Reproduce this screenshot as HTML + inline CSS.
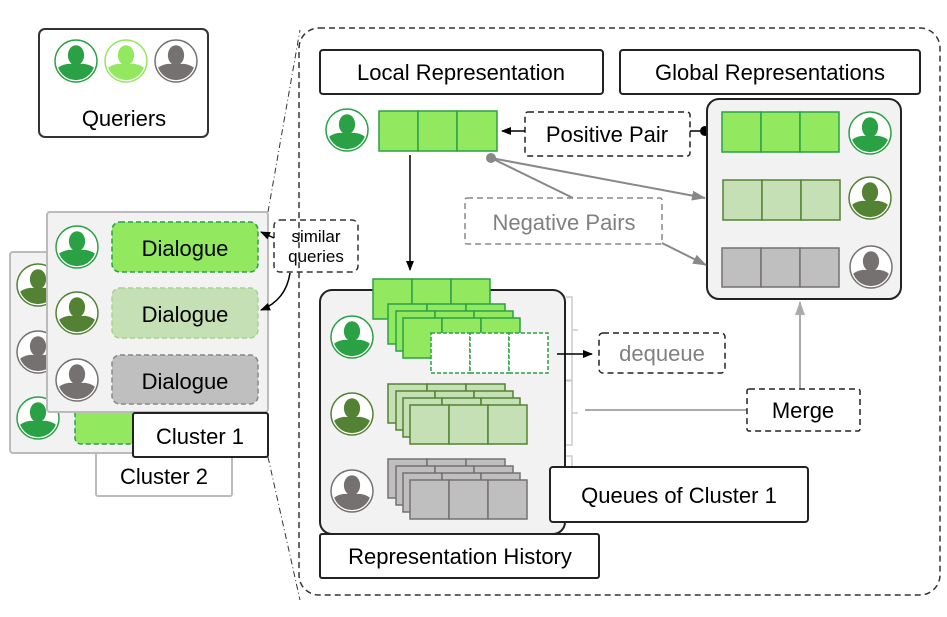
<!DOCTYPE html>
<html><head><meta charset="utf-8"><style>
html,body{margin:0;padding:0;background:#fff;}
svg{display:block;font-family:"Liberation Sans",sans-serif;}
text{font-family:"Liberation Sans",sans-serif;}
</style></head><body>
<svg width="947" height="617" viewBox="0 0 947 617" xmlns="http://www.w3.org/2000/svg">
<defs>
<symbol id="p" viewBox="-22 -22 44 44">
<clipPath id="cc"><circle r="20"/></clipPath>
<g clip-path="url(#cc)">
<ellipse cx="0" cy="-6" rx="8.5" ry="10.5"/>
<path d="M-22 22 L-22 12 Q-20 5 -9 3 L9 3 Q20 5 22 12 L22 22 Z"/>
</g>
</symbol>
<marker id="ab" markerWidth="10" markerHeight="10" refX="9" refY="5" orient="auto" markerUnits="userSpaceOnUse"><path d="M0 1 L10 5 L0 9 Z" fill="#000"/></marker>
<marker id="ag" markerWidth="14" markerHeight="12" refX="13" refY="6" orient="auto" markerUnits="userSpaceOnUse"><path d="M0 1 L14 6 L0 11 Z" fill="#888"/></marker>
<marker id="al" markerWidth="14" markerHeight="12" refX="13" refY="6" orient="auto" markerUnits="userSpaceOnUse"><path d="M0 1 L14 6 L0 11 Z" fill="#aaa"/></marker>
</defs>

<!-- Queriers -->
<rect x="39" y="29" width="169" height="108" rx="6" fill="#fff" stroke="#333" stroke-width="2"/>
<g><circle cx="76" cy="61" r="21" fill="#fff" stroke="#2ba145" stroke-width="1.5"/><use href="#p" x="55" y="40" width="42" height="42" fill="#2ba145"/></g>
<g><circle cx="126" cy="61" r="21" fill="#fff" stroke="#92e85f" stroke-width="1.5"/><use href="#p" x="105" y="40" width="42" height="42" fill="#92e85f"/></g>
<g><circle cx="176" cy="61" r="21" fill="#fff" stroke="#767171" stroke-width="1.5"/><use href="#p" x="155" y="40" width="42" height="42" fill="#767171"/></g>
<text x="124" y="126" font-size="22" text-anchor="middle">Queriers</text>

<!-- dash-dot zoom lines -->
<line x1="268" y1="212" x2="300" y2="30" stroke="#333" stroke-width="1" stroke-dasharray="6 3 1 3"/>
<line x1="268" y1="457" x2="300" y2="600" stroke="#333" stroke-width="1" stroke-dasharray="6 3 1 3"/>

<!-- Cluster 2 -->
<rect x="96" y="440" width="136" height="56" rx="2" fill="#fff" stroke="#bbb" stroke-width="2"/>
<text x="164" y="484" font-size="22" text-anchor="middle">Cluster 2</text>
<rect x="10" y="252" width="250" height="201" rx="3" fill="#f2f2f2" stroke="#bbb" stroke-width="2"/>
<circle cx="38" cy="285" r="21" fill="#fff" stroke="#548235" stroke-width="1.5"/><use href="#p" x="17" y="264" width="42" height="42" fill="#548235"/>
<circle cx="38" cy="352" r="21" fill="#fff" stroke="#767171" stroke-width="1.5"/><use href="#p" x="17" y="331" width="42" height="42" fill="#767171"/>
<circle cx="38" cy="418" r="21" fill="#fff" stroke="#2ba145" stroke-width="1.5"/><use href="#p" x="17" y="397" width="42" height="42" fill="#2ba145"/>
<rect x="75" y="405" width="70" height="39" rx="6" fill="#92e85f" stroke="#2ba145" stroke-width="1.5" stroke-dasharray="5 3"/>

<!-- Cluster 1 -->
<rect x="47" y="212" width="221" height="200" rx="3" fill="#f2f2f2" stroke="#bbb" stroke-width="2"/>
<circle cx="77" cy="247" r="21" fill="#fff" stroke="#2ba145" stroke-width="1.5"/><use href="#p" x="56" y="226" width="42" height="42" fill="#2ba145"/>
<circle cx="77" cy="313" r="21" fill="#fff" stroke="#548235" stroke-width="1.5"/><use href="#p" x="56" y="292" width="42" height="42" fill="#548235"/>
<circle cx="77" cy="380" r="21" fill="#fff" stroke="#767171" stroke-width="1.5"/><use href="#p" x="56" y="359" width="42" height="42" fill="#767171"/>
<rect x="112" y="222" width="146" height="50" rx="8" fill="#92e85f" stroke="#2ba145" stroke-width="1.5" stroke-dasharray="5 3"/>
<text x="185" y="256" font-size="22" text-anchor="middle">Dialogue</text>
<rect x="112" y="288" width="146" height="50" rx="8" fill="#c5e0b4" stroke="#a9d18e" stroke-width="1.5" stroke-dasharray="5 3"/>
<text x="185" y="322" font-size="22" text-anchor="middle">Dialogue</text>
<rect x="112" y="355" width="146" height="49" rx="8" fill="#bfbfbf" stroke="#888" stroke-width="1.5" stroke-dasharray="5 3"/>
<text x="185" y="389" font-size="22" text-anchor="middle">Dialogue</text>
<rect x="133" y="413" width="135" height="44" rx="2" fill="#fff" stroke="#222" stroke-width="2"/>
<text x="200" y="444" font-size="22" text-anchor="middle">Cluster 1</text>

<!-- similar queries -->
<rect x="274" y="220" width="84" height="52" rx="6" fill="#fff" stroke="#333" stroke-width="1.5" stroke-dasharray="6 4"/>
<text x="316" y="242" font-size="17" text-anchor="middle">similar</text>
<text x="316" y="262" font-size="17" text-anchor="middle">queries</text>
<line x1="274" y1="238" x2="261" y2="232" stroke="#000" stroke-width="1.5" marker-end="url(#ab)"/>
<path d="M290 273 Q286 300 261 310" fill="none" stroke="#000" stroke-width="1.5" marker-end="url(#ab)"/>

<!-- big dashed container -->
<rect x="299" y="28" width="641" height="567" rx="20" fill="none" stroke="#333" stroke-width="1.5" stroke-dasharray="6 4"/>

<rect x="320" y="50" width="283" height="44" rx="3" fill="#fff" stroke="#222" stroke-width="2"/>
<text x="461" y="80" font-size="22" text-anchor="middle">Local Representation</text>
<rect x="620" y="50" width="300" height="44" rx="3" fill="#fff" stroke="#222" stroke-width="2"/>
<text x="770" y="80" font-size="22" text-anchor="middle">Global Representations</text>

<!-- local -->
<circle cx="347" cy="130" r="21" fill="#fff" stroke="#2ba145" stroke-width="1.5"/><use href="#p" x="326" y="109" width="42" height="42" fill="#2ba145"/>
<g fill="#92e85f" stroke="#2ba145" stroke-width="1.5"><rect x="379" y="111" width="39" height="40"/><rect x="418" y="111" width="39" height="40"/><rect x="457" y="111" width="40" height="40"/></g>

<!-- positive pair -->
<rect x="525" y="112" width="165" height="44" rx="3" fill="#fff" stroke="#222" stroke-width="1.5" stroke-dasharray="6 4"/>
<text x="607" y="142" font-size="22" text-anchor="middle">Positive Pair</text>
<line x1="525" y1="131" x2="502" y2="131" stroke="#000" stroke-width="1.5" marker-end="url(#ab)"/>
<line x1="690" y1="131" x2="705" y2="131" stroke="#000" stroke-width="1.5"/>
<circle cx="705" cy="131" r="5" fill="#000"/>

<!-- global panel -->
<rect x="707" y="99" width="194" height="200" rx="12" fill="#f2f2f2" stroke="#222" stroke-width="2"/>
<g fill="#92e85f" stroke="#2ba145" stroke-width="1.5"><rect x="722" y="112" width="39" height="40"/><rect x="761" y="112" width="39" height="40"/><rect x="800" y="112" width="39" height="40"/></g>
<g fill="#c5e0b4" stroke="#548235" stroke-width="1.5"><rect x="723" y="180" width="39" height="40"/><rect x="762" y="180" width="39" height="40"/><rect x="801" y="180" width="39" height="40"/></g>
<g fill="#bfbfbf" stroke="#767171" stroke-width="1.5"><rect x="722" y="248" width="39" height="39"/><rect x="761" y="248" width="39" height="39"/><rect x="800" y="248" width="39" height="39"/></g>
<circle cx="870" cy="133" r="21" fill="#fff" stroke="#2ba145" stroke-width="1.5"/><use href="#p" x="849" y="112" width="42" height="42" fill="#2ba145"/>
<circle cx="870" cy="198" r="21" fill="#fff" stroke="#548235" stroke-width="1.5"/><use href="#p" x="849" y="177" width="42" height="42" fill="#548235"/>
<circle cx="871" cy="267" r="21" fill="#fff" stroke="#767171" stroke-width="1.5"/><use href="#p" x="850" y="246" width="42" height="42" fill="#767171"/>

<!-- negative pairs -->
<rect x="465" y="198" width="197" height="46" rx="2" fill="#fff" stroke="#888" stroke-width="1.5" stroke-dasharray="6 4"/>
<text x="564" y="230" font-size="22" text-anchor="middle" fill="#808080">Negative Pairs</text>
<line x1="491" y1="158" x2="705" y2="198" stroke="#888" stroke-width="2" marker-end="url(#ag)"/>
<line x1="491" y1="158" x2="573" y2="198" stroke="#888" stroke-width="2"/>
<line x1="662" y1="243" x2="706" y2="265" stroke="#888" stroke-width="2" marker-end="url(#ag)"/>
<circle cx="491" cy="158" r="5" fill="#888"/>

<!-- down arrow -->
<line x1="410" y1="155" x2="410" y2="270" stroke="#000" stroke-width="1.5" marker-end="url(#ab)"/>

<!-- brackets -->
<g fill="none" stroke="#ccc" stroke-width="1.5">
<path d="M566 297 L572 297 L572 380 L566 380 M572 330 L578 330"/>
<path d="M566 381 L572 381 L572 445 L566 445 M572 413 L578 413"/>
<path d="M566 456 L572 456 L572 470"/>
</g>

<!-- history panel -->
<rect x="320" y="290" width="245" height="244" rx="12" fill="#f2f2f2" stroke="#222" stroke-width="2"/>
<circle cx="352" cy="337" r="21" fill="#fff" stroke="#2ba145" stroke-width="1.5"/><use href="#p" x="331" y="316" width="42" height="42" fill="#2ba145"/>
<circle cx="352" cy="414" r="21" fill="#fff" stroke="#548235" stroke-width="1.5"/><use href="#p" x="331" y="393" width="42" height="42" fill="#548235"/>
<circle cx="352" cy="491" r="21" fill="#fff" stroke="#767171" stroke-width="1.5"/><use href="#p" x="331" y="470" width="42" height="42" fill="#767171"/>

<!-- green stack -->
<g fill="#92e85f" stroke="#2ba145" stroke-width="1.5">
<g><rect x="373" y="279" width="39" height="40"/><rect x="412" y="279" width="39" height="40"/><rect x="451" y="279" width="39" height="40"/></g>
<g><rect x="388" y="304" width="39" height="40"/><rect x="427" y="304" width="39" height="40"/><rect x="466" y="304" width="39" height="40"/></g>
<g><rect x="396" y="311" width="39" height="40"/><rect x="435" y="311" width="39" height="40"/><rect x="474" y="311" width="39" height="40"/></g>
<g><rect x="403" y="318" width="39" height="40"/><rect x="442" y="318" width="39" height="40"/><rect x="481" y="318" width="39" height="40"/></g>
</g>
<g fill="#fff" stroke="#2ba145" stroke-width="1.5" stroke-dasharray="4 2">
<rect x="431" y="333" width="39" height="40"/><rect x="470" y="333" width="39" height="40"/><rect x="509" y="333" width="39" height="40"/>
</g>
<!-- olive stack -->
<g fill="#c5e0b4" stroke="#548235" stroke-width="1.5">
<g><rect x="388" y="384" width="39" height="39"/><rect x="427" y="384" width="39" height="39"/><rect x="466" y="384" width="39" height="39"/></g>
<g><rect x="396" y="391" width="39" height="39"/><rect x="435" y="391" width="39" height="39"/><rect x="474" y="391" width="39" height="39"/></g>
<g><rect x="403" y="398" width="39" height="39"/><rect x="442" y="398" width="39" height="39"/><rect x="481" y="398" width="39" height="39"/></g>
<g><rect x="410" y="405" width="39" height="39"/><rect x="449" y="405" width="39" height="39"/><rect x="488" y="405" width="39" height="39"/></g>
</g>
<!-- gray stack -->
<g fill="#bfbfbf" stroke="#767171" stroke-width="1.5">
<g><rect x="388" y="459" width="39" height="39"/><rect x="427" y="459" width="39" height="39"/><rect x="466" y="459" width="39" height="39"/></g>
<g><rect x="396" y="466" width="39" height="39"/><rect x="435" y="466" width="39" height="39"/><rect x="474" y="466" width="39" height="39"/></g>
<g><rect x="403" y="473" width="39" height="39"/><rect x="442" y="473" width="39" height="39"/><rect x="481" y="473" width="39" height="39"/></g>
<g><rect x="410" y="480" width="39" height="39"/><rect x="449" y="480" width="39" height="39"/><rect x="488" y="480" width="39" height="39"/></g>
</g>

<rect x="320" y="534" width="279" height="44" rx="2" fill="#fff" stroke="#222" stroke-width="2"/>
<text x="460" y="564" font-size="22" text-anchor="middle">Representation History</text>
<rect x="550" y="467" width="258" height="55" rx="3" fill="#fff" stroke="#222" stroke-width="2"/>
<text x="679" y="503" font-size="22" text-anchor="middle">Queues of Cluster 1</text>

<!-- dequeue -->
<line x1="557" y1="354" x2="592" y2="354" stroke="#000" stroke-width="1.5" marker-end="url(#ab)"/>
<rect x="599" y="333" width="126" height="40" rx="4" fill="#fff" stroke="#222" stroke-width="1.5" stroke-dasharray="6 4"/>
<text x="662" y="361" font-size="22" text-anchor="middle" fill="#808080">dequeue</text>

<!-- merge -->
<line x1="585" y1="410" x2="747" y2="410" stroke="#aaa" stroke-width="2"/>
<line x1="800" y1="389" x2="800" y2="302" stroke="#aaa" stroke-width="2" marker-end="url(#al)"/>
<rect x="747" y="389" width="113" height="42" rx="2" fill="#fff" stroke="#222" stroke-width="1.5" stroke-dasharray="6 4"/>
<text x="803" y="418" font-size="22" text-anchor="middle">Merge</text>
</svg>
</body></html>
